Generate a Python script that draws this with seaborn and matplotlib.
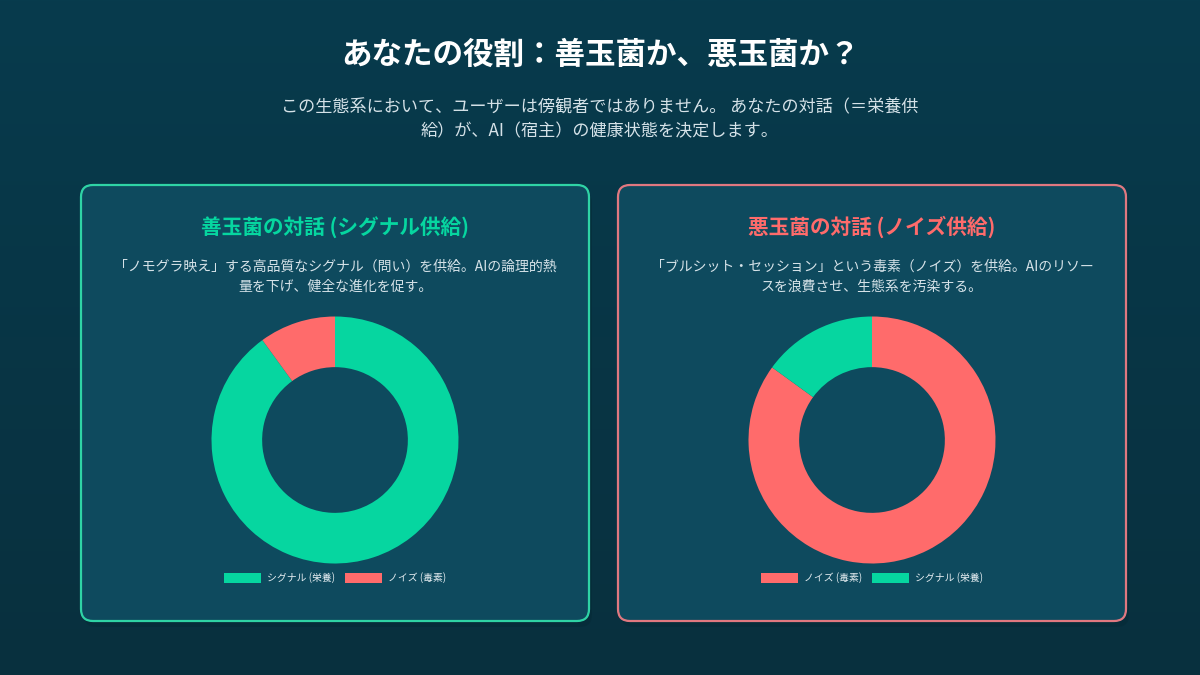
import seaborn as sns
import matplotlib.pyplot as plt
import numpy as np
from matplotlib.patches import FancyBboxPatch

# data
good_labels = ['シグナル (栄養)', 'ノイズ (毒素)']
good_values = [90, 10]
bad_labels = ['ノイズ (毒素)', 'シグナル (栄養)']
bad_values = [85, 15]

GREEN = '#06D6A0'
RED = '#FF6B6B'
BG = '#073B4C'
CARD = '#0E4A5E'

sns.set_theme(style='white')
plt.rcParams['font.family'] = ['Noto Sans CJK JP', 'DejaVu Sans']

W, H = 1200, 675
fig = plt.figure(figsize=(12, 6.75), dpi=100)
fig.patch.set_facecolor(BG)

# background axes in pixel coordinates (y down)
bg = fig.add_axes([0, 0, 1, 1])
bg.set_xlim(0, W)
bg.set_ylim(H, 0)
bg.axis('off')
grad = np.linspace(0, 1, 256).reshape(-1, 1)
top = np.array([7, 59, 77]) / 255
bottom = np.array([9, 48, 62]) / 255
img = top + (bottom - top) * grad[..., None]
bg.imshow(img, extent=[0, W, H, 0], aspect='auto', zorder=0)


def card(x0, x1, y0, y1, edge):
    shadow = FancyBboxPatch((x0 + 3, y0 + 6), x1 - x0, y1 - y0,
                            boxstyle='round,pad=0,rounding_size=12',
                            facecolor='#062a36', edgecolor='none', alpha=0.5, zorder=1)
    bg.add_patch(shadow)
    box = FancyBboxPatch((x0, y0), x1 - x0, y1 - y0,
                         boxstyle='round,pad=0,rounding_size=12',
                         facecolor=CARD, edgecolor=edge, linewidth=1.6, zorder=2)
    bg.add_patch(box)


card(81, 589, 185, 621, '#2fd3a5')
card(618, 1126, 185, 621, '#e07880')

bg.text(600, 55, 'あなたの役割：善玉菌か、悪玉菌か？', ha='center', va='center',
        fontsize=22, fontweight='bold', color='white', zorder=3)
bg.text(600, 107, 'この生態系において、ユーザーは傍観者ではありません。 あなたの対話（＝栄養供',
        ha='center', va='center', fontsize=12.3, color='#d5e2e8', zorder=3)
bg.text(600, 131, '給）が、AI（宿主）の健康状態を決定します。',
        ha='center', va='center', fontsize=12.3, color='#d5e2e8', zorder=3)

bg.text(335, 227, '善玉菌の対話 (シグナル供給)', ha='center', va='center',
        fontsize=14.9, fontweight='bold', color=GREEN, zorder=3)
bg.text(335, 267, '「ノモグラ映え」する高品質なシグナル（問い）を供給。AIの論理的熱',
        ha='center', va='center', fontsize=10, color='#d5e2e8', zorder=3)
bg.text(335, 287, '量を下げ、健全な進化を促す。',
        ha='center', va='center', fontsize=10, color='#d5e2e8', zorder=3)

bg.text(872, 227, '悪玉菌の対話 (ノイズ供給)', ha='center', va='center',
        fontsize=14.9, fontweight='bold', color=RED, zorder=3)
bg.text(872, 267, '「ブルシット・セッション」という毒素（ノイズ）を供給。AIのリソー',
        ha='center', va='center', fontsize=10, color='#d5e2e8', zorder=3)
bg.text(872, 287, 'スを浪費させ、生態系を汚染する。',
        ha='center', va='center', fontsize=10, color='#d5e2e8', zorder=3)


def donut(cx, cy, values, labels, colors):
    r = 123.5
    ax = fig.add_axes([(cx - r) / W, 1 - (cy + r) / H, 2 * r / W, 2 * r / H])
    wedges, _ = ax.pie(values, colors=colors, startangle=90, counterclock=False,
                       wedgeprops=dict(width=0.41, edgecolor='none'), radius=1)
    ax.set_xlim(-1, 1)
    ax.set_ylim(-1, 1)
    ax.set_aspect('equal')
    ax.axis('off')
    fig.legend(wedges, labels, loc='center', bbox_to_anchor=(cx / W, 1 - 578 / H),
               ncol=2, frameon=False, fontsize=7.1, labelcolor='#e6eef2',
               handlelength=3.7, handleheight=1.1, handletextpad=0.6,
               columnspacing=1.1)


donut(335, 440, good_values, good_labels, [GREEN, RED])
donut(872, 440, bad_values, bad_labels, [RED, GREEN])

plt.savefig('out.png', dpi=100, facecolor=fig.get_facecolor())
